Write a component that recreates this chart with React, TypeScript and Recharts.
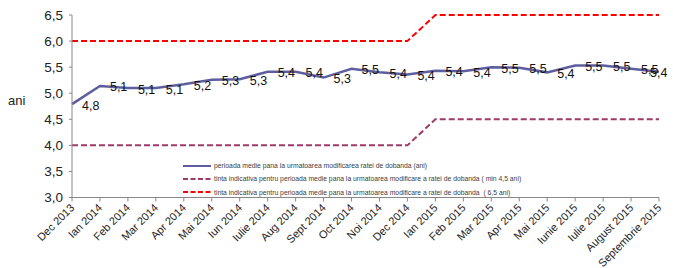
import React from "react";
import { LineChart, Line, XAxis, YAxis, Legend, LabelList } from "recharts";

const categories = [
  "Dec 2013", "Ian 2014", "Feb 2014", "Mar 2014", "Apr 2014", "Mai 2014",
  "Iun 2014", "Iulie 2014", "Aug 2014", "Sept 2014", "Oct 2014", "Noi 2014",
  "Dec 2014", "Ian 2015", "Feb 2015", "Mar 2015", "Apr 2015", "Mai 2015",
  "Iunie 2015", "Iulie 2015", "August 2015", "Septembrie 2015",
];
const avgPeriod = [
  4.79, 5.14, 5.1, 5.1, 5.17, 5.26, 5.27, 5.41, 5.41, 5.3, 5.47, 5.4,
  5.36, 5.43, 5.42, 5.5, 5.49, 5.4, 5.53, 5.53, 5.47, 5.41,
];
const minTarget = [
  4, 4, 4, 4, 4, 4, 4, 4, 4, 4, 4, 4, 4,
  4.5, 4.5, 4.5, 4.5, 4.5, 4.5, 4.5, 4.5, 4.5,
];
const maxTarget = [
  6, 6, 6, 6, 6, 6, 6, 6, 6, 6, 6, 6, 6,
  6.5, 6.5, 6.5, 6.5, 6.5, 6.5, 6.5, 6.5, 6.5,
];
const yTicks = [3, 3.5, 4, 4.5, 5, 5.5, 6, 6.5];
const seriesNames = [
  "perioada medie pana la urmatoarea modificarea ratei de dobanda (ani)",
  "tinta indicativa pentru perioada medie pana la urmatoarea modificare a ratei de dobanda ( min 4,5 ani)",
  "tinta indicativa pentru perioada medie pana la urmatoarea modificare a ratei de dobanda  ( 6,5 ani)",
];

const data = categories.map((c, i) => ({
  name: c,
  avg: avgPeriod[i],
  min: minTarget[i],
  max: maxTarget[i],
}));

const FONT = "'Liberation Sans', Arial, sans-serif";
const COL_AVG = "#5E5E9E";
const COL_MIN = "#9E3A6A";
const COL_MAX = "#FF0000";

const fmt = (v: number) => v.toFixed(1).replace(".", ",");

const XTick = (props: any) => {
  const { x, y, payload } = props;
  return (
    <g transform={`translate(${x + 3},${y + 5})`}>
      <text
        x={0}
        y={0}
        textAnchor="end"
        transform="rotate(-45)"
        fontSize={11}
        fontFamily={FONT}
        fill="#222"
      >
        {payload.value}
      </text>
    </g>
  );
};

const renderLabel = (props: any) => {
  const { x, y, value, index } = props;
  const last = index === avgPeriod.length - 1 || x > 650;
  return (
    <text
      x={last ? x - 9 : x + 10}
      y={y + 1.5}
      dominantBaseline="central"
      fontSize={12.5}
      fontFamily={FONT}
      fill="#111"
    >
      {fmt(Number(value))}
    </text>
  );
};

const legendItems = [
  { name: seriesNames[0], color: COL_AVG, dash: undefined as string | undefined },
  { name: seriesNames[1], color: COL_MIN, dash: "5 2.5" },
  { name: seriesNames[2], color: COL_MAX, dash: "5 2.5" },
];

const LegendContent = () => (
  <div style={{ fontFamily: FONT, fontSize: 6.8, color: "#404040" }}>
    {legendItems.map((it) => (
      <div
        key={it.name}
        style={{ display: "flex", alignItems: "center", height: 13.3, whiteSpace: "pre" }}
      >
        <svg width={28} height={4} style={{ display: "block" }}>
          <line
            x1={0}
            y1={2}
            x2={28}
            y2={2}
            stroke={it.color}
            strokeWidth={2}
            strokeDasharray={it.dash}
          />
        </svg>
        <span style={{ marginLeft: 3 }}>{it.name}</span>
      </div>
    ))}
  </div>
);

export default function App() {
  return (
    <div style={{ position: "absolute", left: 0, top: 0, background: "#fff" }}>
      <LineChart
        width={673}
        height={268}
        data={data}
        margin={{ top: 15, right: 14, left: 0, bottom: 0 }}
      >
        <XAxis
          dataKey="name"
          interval={0}
          height={70.5}
          tick={<XTick />}
          tickSize={4}
          axisLine={{ stroke: "#888" }}
          tickLine={{ stroke: "#888" }}
        />
        <YAxis
          domain={[3, 6.5]}
          ticks={yTicks}
          width={72}
          tickFormatter={fmt}
          tickSize={3}
          tickMargin={6}
          axisLine={{ stroke: "#888" }}
          tickLine={{ stroke: "#888" }}
          tick={{ fontSize: 13.5, fontFamily: FONT, fill: "#222" }}
          label={{
            value: "ani",
            position: "insideLeft",
            offset: 8,
            angle: 0,
            dy: -6,
            style: { fontSize: 13, fontFamily: FONT, fill: "#222" },
          }}
        />
        <Legend
          layout="vertical"
          align="center"
          verticalAlign="middle"
          content={<LegendContent />}
          wrapperStyle={{ left: 183, top: 159, width: "auto" }}
        />
        <Line
          dataKey="max"
          stroke={COL_MAX}
          strokeWidth={2}
          strokeDasharray="6 3"
          dot={false}
          isAnimationActive={false}
        />
        <Line
          dataKey="min"
          stroke={COL_MIN}
          strokeWidth={2}
          strokeDasharray="6 3"
          dot={false}
          isAnimationActive={false}
        />
        <Line
          dataKey="avg"
          stroke={COL_AVG}
          strokeWidth={2.5}
          dot={false}
          isAnimationActive={false}
        >
          <LabelList dataKey="avg" content={renderLabel} />
        </Line>
      </LineChart>
    </div>
  );
}
